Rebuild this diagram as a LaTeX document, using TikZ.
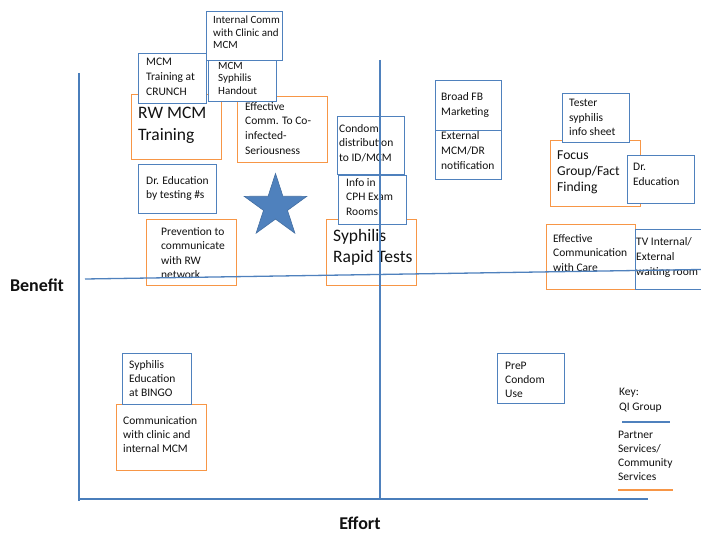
\documentclass[tikz,border=0pt]{standalone}
\usepackage{fontspec}
\setmainfont{Carlito}
\usetikzlibrary{shapes.geometric}
\definecolor{blueC}{HTML}{4F81BD}
\definecolor{axisC}{HTML}{4A7EBB}
\definecolor{orangeC}{HTML}{F79646}
\definecolor{textC}{HTML}{111111}
\tikzset{
  ob/.style={draw=orangeC, line width=1.3pt, fill=white, rectangle, inner sep=0pt, anchor=north west},
  bb/.style={draw=blueC, line width=1.3pt, fill=white, rectangle, inner sep=0pt, anchor=north west},
  tx/.style={anchor=north west, inner sep=0pt, align=left, text=textC, font=\fontsize{11.5}{14.5}\selectfont},
  txs/.style={tx, font=\fontsize{11}{12.5}\selectfont},
  txl/.style={tx, font=\fontsize{17.5}{21.5}\selectfont},
  txm/.style={tx, font=\fontsize{13.6}{16}\selectfont},
  axis/.style={draw=axisC, line width=2.5pt},
  mid/.style={draw=blueC, line width=1.3pt},
  lbl/.style={inner sep=0pt, text=textC, font=\fontsize{18}{20}\selectfont\bfseries},
}
\begin{document}
\begin{tikzpicture}[x=1pt,y=-1pt]
\useasboundingbox (0,0) rectangle (701,534);
\clip (0,0) rectangle (701,534);
% orange boxes
\node[ob, minimum width=90, minimum height=65] (rw) at (131,94) {};
\node[ob, minimum width=90, minimum height=66] (eff) at (237,96) {};
\node[ob, minimum width=90, minimum height=66] (prev) at (146,219) {};
\node[ob, minimum width=90, minimum height=66] (srt) at (326,219) {};
\node[ob, minimum width=90, minimum height=66] (focus) at (550,140) {};
\node[ob, minimum width=89, minimum height=65] (care) at (546,224) {};
\node[ob, minimum width=90, minimum height=66] (comm) at (116,404) {};
% blue boxes
\node[bb, minimum width=76, minimum height=49] (icomm) at (206,11) {};
\node[bb, minimum width=68, minimum height=50] (crunch) at (138,53) {};
\node[bb, minimum width=68, minimum height=41] (hand) at (208,60) {};
\node[bb, minimum width=78, minimum height=49] (dred) at (138,164) {};
\node[bb, minimum width=67, minimum height=58] (condom) at (337,116) {};
\node[bb, minimum width=68, minimum height=49] (cph) at (338,175) {};
\node[bb, minimum width=66, minimum height=50] (fb) at (435,80) {};
\node[bb, minimum width=66, minimum height=49] (ext) at (435,130) {};
\node[bb, minimum width=67, minimum height=49] (tester) at (562,93) {};
\node[bb, minimum width=67, minimum height=48] (dred2) at (627,155) {};
\node[bb, minimum width=75, minimum height=60] (tv) at (635,229) {};
\node[bb, minimum width=69, minimum height=51] (bingo) at (122,353) {};
\node[bb, minimum width=67, minimum height=50] (prep) at (497,353) {};
% star
\node[star, star points=5, star point ratio=2.618, minimum size=66pt, inner sep=0pt,
  fill=blueC, draw=blueC!85!black, line width=0.6pt] (star) at (275.5,206.5) {};
% texts
\node[txs] (t-icomm) at (213,16) {Internal Comm\\with Clinic and\\MCM};
\node[tx, font=\fontsize{11.5}{15}\selectfont] (t-crunch) at (146,58) {MCM\\Training at\\CRUNCH};
\node[txs] (t-hand) at (218,62) {MCM\\Syphilis\\Handout};
\node[txl] (t-rw) at (138,107) {RW MCM\\Training};
\node[tx, font=\fontsize{11.5}{14.7}\selectfont] (t-eff) at (245,102) {Effective\\Comm. To Co-\\infected-\\Seriousness};
\node[tx, font=\fontsize{11.5}{14}\selectfont] (t-dred) at (146,176) {Dr. Education\\by testing \#s};
\node[tx] (t-prev) at (161,227) {Prevention to\\communicate\\with RW\\network};
\node[tx] (t-condom) at (339,124) {Condom\\distribution\\to ID/MCM};
\node[tx] (t-cph) at (346,178) {Info in\\CPH Exam\\Rooms};
\node[txl, font=\fontsize{17.5}{21}\selectfont] (t-srt) at (333,229) {Syphilis\\Rapid Tests};
\node[tx, font=\fontsize{11.5}{15}\selectfont] (t-fb) at (441,92) {Broad FB\\Marketing};
\node[tx, font=\fontsize{11.5}{15}\selectfont] (t-ext) at (441,131) {External\\MCM/DR\\notification};
\node[tx] (t-tester) at (569,99) {Tester\\syphilis\\info sheet};
\node[txm] (t-focus) at (557,151) {Focus\\Group/Fact\\Finding};
\node[tx, font=\fontsize{11.5}{15}\selectfont] (t-dred2) at (633,163) {Dr.\\Education};
\node[tx] (t-care) at (553,234) {Effective\\Communication\\with Care};
\node[tx, font=\fontsize{11.5}{15}\selectfont] (t-tv) at (636,237) {TV Internal/\\External\\waiting room};
\node[tx, font=\fontsize{11.5}{14}\selectfont] (t-bingo) at (129,360) {Syphilis\\Education\\at BINGO};
\node[tx, font=\fontsize{11.5}{14}\selectfont] (t-comm) at (123,416) {Communication\\with clinic and\\internal MCM};
\node[tx, font=\fontsize{11.5}{14}\selectfont] (t-prep) at (505,362) {PreP\\Condom\\Use};
\node[tx, font=\fontsize{11.5}{15}\selectfont] (t-key) at (619,388) {Key:\\QI Group};
\node[tx, font=\fontsize{11.5}{14}\selectfont] (t-ps) at (618,431) {Partner\\Services/\\Community\\Services};
% axes and quadrant lines
\coordinate (hl) at (85,279);
\coordinate (hr) at (701,269.5);
\coordinate (vt) at (380,60);
\coordinate (vb) at (380,499);
\coordinate (at) at (79,73);
\coordinate (ab) at (79,501);
\coordinate (bl) at (78,499);
\coordinate (br) at (648,499);
\draw[mid] (hl) -- (hr);
\draw[mid] (vt) -- (vb);
\draw[axis] (at) -- (ab);
\draw[axis] (bl) -- (br);
% key lines
\coordinate (kb1) at (622,422);
\coordinate (kb2) at (670,422);
\coordinate (ko1) at (618,490);
\coordinate (ko2) at (673,490);
\draw[draw=blueC, line width=2.2pt] (kb1) -- (kb2);
\draw[draw=orangeC, line width=2.2pt] (ko1) -- (ko2);
% axis labels
\node[lbl] (benefit) at (37,285) {Benefit};
\node[lbl] (effort) at (360,523) {Effort};
\end{tikzpicture}
\end{document}
